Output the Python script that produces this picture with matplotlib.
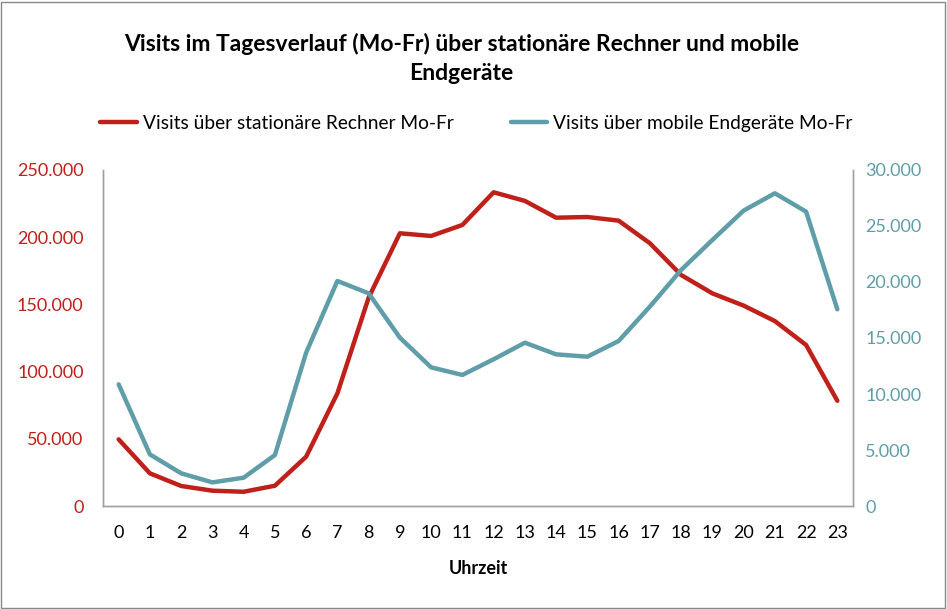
import matplotlib
matplotlib.use("Agg")
import matplotlib.pyplot as plt
from matplotlib.ticker import FuncFormatter
from matplotlib.patches import Rectangle

plt.rcParams['font.family'] = ['Lato', 'DejaVu Sans']

hours = list(range(24))
stationaer = [49600, 24300, 14900, 11400, 10600, 15100, 36700, 83800, 155000, 202900,
              200900, 209100, 233400, 227000, 214500, 215000, 212300, 195500, 171900,
              158200, 149100, 137600, 119800, 78300]
mobil = [10860, 4610, 2920, 2110, 2530, 4550, 13690, 20090, 18990, 15030, 12380, 11700,
         13100, 14580, 13540, 13330, 14730, 17800, 21070, 23750, 26370, 27920, 26280, 17560]
left_ticks = [0, 50000, 100000, 150000, 200000, 250000]
right_ticks = [0, 5000, 10000, 15000, 20000, 25000, 30000]

RED = '#C0201A'
TEAL = '#5F9EA8'
GRAY = '#A0A0A0'

fig = plt.figure(figsize=(9.47, 6.09), dpi=100)
ax = fig.add_axes([0.1088, 0.1691, 0.7919, 0.5518])
ax2 = ax.twinx()

l1, = ax.plot(hours, stationaer, color=RED, lw=3.2, solid_capstyle='round',
              label='Visits über stationäre Rechner Mo-Fr')
l2, = ax2.plot(hours, mobil, color=TEAL, lw=3.2, solid_capstyle='round',
               label='Visits über mobile Endgeräte Mo-Fr')

fmt = FuncFormatter(lambda v, p: f"{int(v):,}".replace(',', '.'))
ax.set_xlim(-0.5, 23.5)
ax.set_ylim(0, 250000)
ax2.set_ylim(0, 30000)
ax.set_yticks(left_ticks)
ax2.set_yticks(right_ticks)
ax.yaxis.set_major_formatter(fmt)
ax2.yaxis.set_major_formatter(fmt)
ax.set_xticks(hours)
ax.set_xticklabels([str(h) for h in hours])

for a in (ax, ax2):
    a.spines['top'].set_visible(False)
    for s in ('left', 'right', 'bottom'):
        a.spines[s].set_color(GRAY)
        a.spines[s].set_linewidth(1.0)
ax.tick_params(axis='y', length=0, pad=14, labelsize=13, labelcolor=RED)
ax2.tick_params(axis='y', length=0, pad=9, labelsize=13, labelcolor=TEAL)
ax.tick_params(axis='x', length=0, pad=14, labelsize=13, labelcolor='black')

ax.set_xlabel('Uhrzeit', fontsize=13, fontweight='bold', labelpad=13)

fig.text(0.487, 0.904, 'Visits im Tagesverlauf (Mo-Fr) über stationäre Rechner und mobile\nEndgeräte',
         ha='center', va='center', fontsize=16.5, fontweight='bold', linespacing=1.45)

fig.legend(handles=[l1, l2], loc='center', bbox_to_anchor=(0.503, 0.798, 0, 0), ncol=2,
           frameon=False, fontsize=13.8, handlelength=1.9, handletextpad=0.3,
           columnspacing=3.0)

fig.patches.append(Rectangle((0.001, 0.002), 0.997, 0.995, transform=fig.transFigure,
                             fill=False, edgecolor='#888888', lw=1.0))

fig.savefig('out.png', dpi=100)
